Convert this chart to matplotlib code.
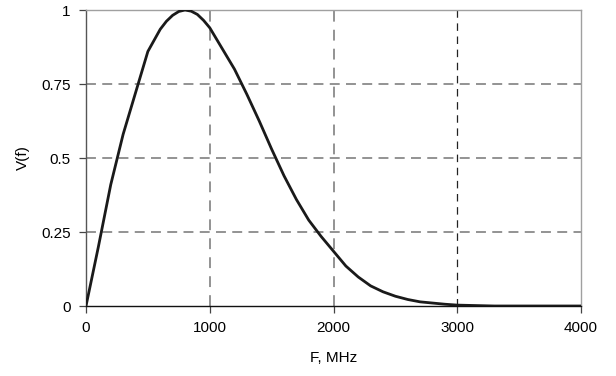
import matplotlib as mpl; mpl.use("Agg")
import matplotlib.pyplot as plt
import numpy as np

# curve (finer steps around the peak)
FREQ = [0, 100, 200, 300, 400, 500, 600, 650, 700, 750, 800, 850, 900, 950, 1000,
        1100, 1200, 1300, 1400, 1500, 1600, 1700, 1800, 1900, 2000, 2100, 2200,
        2300, 2400, 2500, 2600, 2700, 2800, 2900, 3000, 3100, 3200, 3300, 3400,
        3500, 3600, 3700, 3800, 3900, 4000]
VF = [0, 0.20, 0.41, 0.58, 0.72, 0.86, 0.935, 0.962, 0.982, 0.995, 1.0, 0.996,
      0.985, 0.965, 0.94, 0.87, 0.80, 0.715, 0.625, 0.53, 0.44, 0.36, 0.29,
      0.235, 0.185, 0.135, 0.098, 0.068, 0.048, 0.033, 0.022, 0.014, 0.010,
      0.006, 0.003, 0.002, 0.001, 0, 0, 0, 0, 0, 0, 0, 0]
XTICKS = [0, 1000, 2000, 3000, 4000]
YTICKS = [0, 0.25, 0.5, 0.75, 1]
YTICKLABELS = ["0", "0.25", "0.5", "0.75", "1"]

mpl.rcParams.update({"font.family": ["Liberation Sans", "DejaVu Sans"], "font.size": 11})

fig = plt.figure(figsize=(6.16, 3.76), dpi=100)
ax = fig.add_axes([86/616, 1-306/376, (581-86)/616, (306-10)/376])

# grid
for y in YTICKS[1:-1]:
    ax.axhline(y, color="#8a8a8a", lw=1.3, dashes=(5.5, 3.5), zorder=1)
for x in XTICKS[1:-1]:
    c = "#222222" if x == 3000 else "#8a8a8a"
    lw = 0.9 if x == 3000 else 1.3
    ax.axvline(x, color=c, lw=lw, dashes=(6, 4.5), zorder=1)

ax.plot(FREQ, VF, color="#1a1a1a", lw=2.0, zorder=3, solid_joinstyle="round",
        solid_capstyle="round")

ax.set_xlim(0, 4000); ax.set_ylim(0, 1)
ax.set_xticks(XTICKS); ax.set_yticks(YTICKS)
ax.set_yticklabels(YTICKLABELS)
ax.tick_params(direction="out", length=5, width=0.9, color="#444444", labelsize=11, pad=6)
ax.spines["left"].set_color("#555555"); ax.spines["left"].set_linewidth(1.0)
ax.spines["bottom"].set_color("#111111"); ax.spines["bottom"].set_linewidth(1.0)
for s in ("top", "right"):
    ax.spines[s].set_color("#a0a0a0"); ax.spines[s].set_linewidth(1.0)

ax.set_xlabel("F, MHz", fontsize=11, labelpad=11)
ax.set_ylabel("V(f)", fontsize=11, labelpad=8)

fig.savefig("out.png", dpi=100)
